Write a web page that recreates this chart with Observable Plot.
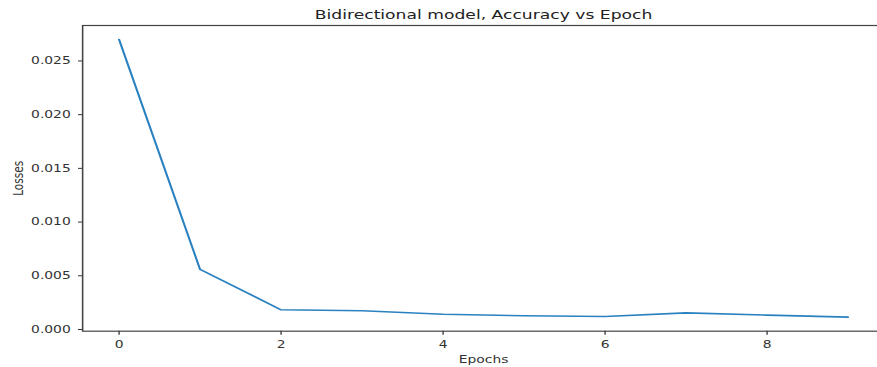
<!DOCTYPE html>
<html>
<head>
<meta charset="utf-8">
<script src="https://cdn.jsdelivr.net/npm/d3@7"></script>
<script src="https://cdn.jsdelivr.net/npm/@observablehq/plot@0.6"></script>
<style>
  html, body { margin: 0; padding: 0; background: white; overflow: hidden; width: 877px; height: 367px; }
  #wrap { transform: scaleX(1.32); transform-origin: 0 0; width: 674px; }
</style>
</head>
<body>
<div id="wrap"></div>
<script>
const titleText = "Bidirectional model, Accuracy vs Epoch";
const xLabel = "Epochs";
const yLabel = "Losses";
const epochs = [0, 1, 2, 3, 4, 5, 6, 7, 8, 9];
const losses = [0.0270, 0.00559, 0.00183, 0.00174, 0.00142, 0.00128, 0.00121, 0.00155, 0.00134, 0.00115];
const xTicks = [0, 2, 4, 6, 8];
const yTicks = [0, 0.005, 0.010, 0.015, 0.020, 0.025];

const rows = epochs.map((e, i) => ({epoch: e, loss: losses[i]}));

const chart = Plot.plot({
  width: 674,
  height: 367,
  marginTop: 25,
  marginBottom: 36.3,
  marginLeft: 62.1,
  marginRight: 4.4,
  style: {fontFamily: "DejaVu Sans", fontSize: "10.5px", color: "#333", background: "white", overflow: "visible"},
  x: {domain: [-0.45, 9.45], ticks: xTicks, tickFormat: d => String(d), tickSize: 4, tickPadding: 5, label: null},
  y: {domain: [-0.00016, 0.0283], ticks: yTicks, tickFormat: ".3f", tickSize: 3, tickPadding: 6, label: null},
  marks: [
    Plot.frame({stroke: "#444", strokeWidth: 1.2}),
    Plot.line(rows, {x: "epoch", y: "loss", stroke: "#2a81bf", strokeWidth: 1.6}),
    Plot.text([titleText], {frameAnchor: "top", dy: -7, lineAnchor: "bottom", textAnchor: "middle", fontSize: 13, fill: "#222"}),
    Plot.text([xLabel], {frameAnchor: "bottom", dy: 32, lineAnchor: "bottom", textAnchor: "middle", fill: "#333"}),
    Plot.text([yLabel], {frameAnchor: "left", dx: -44.9, rotate: -90, lineAnchor: "bottom", textAnchor: "middle", fill: "#333"})
  ]
});
document.getElementById("wrap").appendChild(chart);
</script>
</body>
</html>
